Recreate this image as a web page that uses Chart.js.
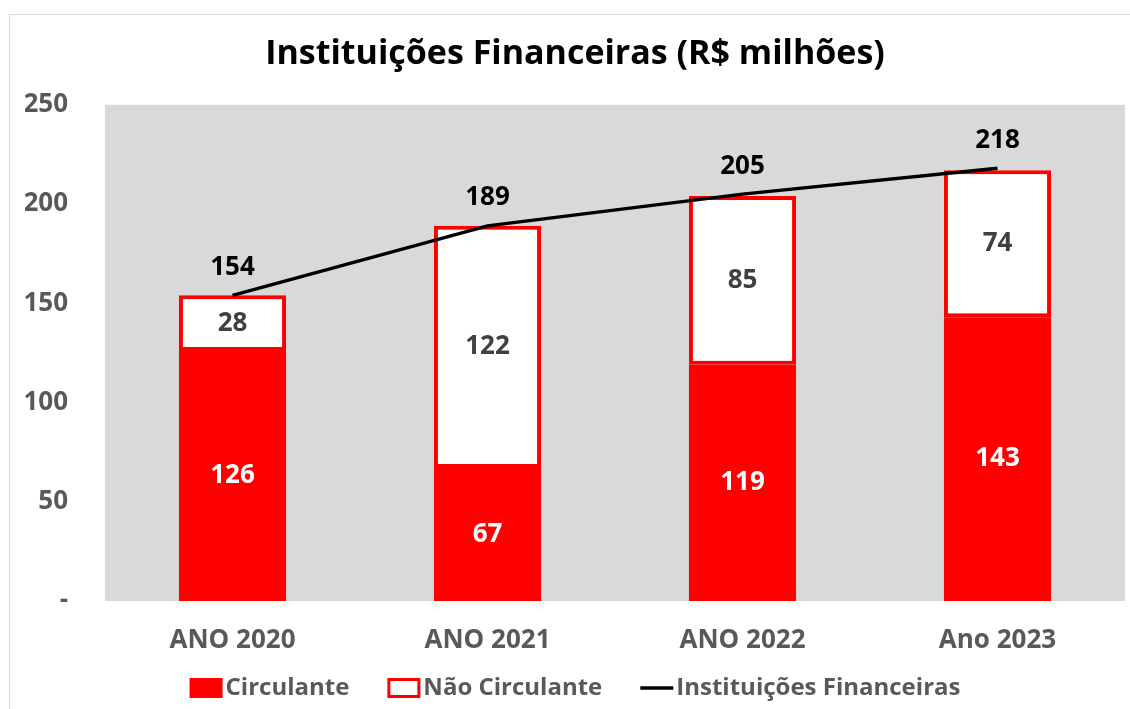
<!DOCTYPE html>
<html>
<head>
<meta charset="utf-8">
<script src="https://cdn.jsdelivr.net/npm/chart.js@4.4.0/dist/chart.umd.min.js"></script>
<style>
  html, body { margin: 0; padding: 0; background: #fff; overflow: hidden; }
  #frame { position: absolute; left: 9px; top: 14px; width: 1200px; height: 800px;
           border-left: 1px solid #d9d9d9; border-top: 1px solid #d9d9d9; }
  #wrap { position: absolute; left: 0; top: 0; width: 1130px; height: 709px; }
</style>
</head>
<body>
<div id="frame"></div>
<div id="wrap"><canvas id="canvas" width="1130" height="709"></canvas></div>
<script>
var categories = ["ANO 2020", "ANO 2021", "ANO 2022", "Ano 2023"];
var circulante = [126, 67, 119, 143];
var naoCirculante = [28, 122, 85, 74];
var totalIF = [154, 189, 205, 218];
var yTicks = [0, 50, 100, 150, 200, 250];

var FONT = "'Open Sans', sans-serif";
var RED = "#ff0000";
var GREY = "#595959";

// grey plot background
var plotBg = {
    id: 'plotBg',
    beforeDatasetsDraw: function(chart) {
        var a = chart.chartArea, ctx = chart.ctx;
        ctx.save();
        ctx.fillStyle = "#d9d9d9";
        ctx.fillRect(a.left, a.top, a.right - a.left, a.bottom - a.top);
        ctx.restore();
    }
};

// value labels
var valueLabels = {
    id: 'valueLabels',
    afterDatasetsDraw: function(chart) {
        var ctx = chart.ctx;
        ctx.save();
        ctx.textAlign = "center";
        ctx.textBaseline = "middle";
        ctx.font = "bold 26px " + FONT;
        chart.data.datasets.forEach(function(ds, i) {
            var meta = chart.getDatasetMeta(i);
            meta.data.forEach(function(el, j) {
                var v = ds.data[j];
                if (ds.type === 'line') {
                    ctx.fillStyle = "#000";
                    ctx.fillText(v, el.x, el.y - 28);
                } else {
                    ctx.fillStyle = ds.labelColor;
                    ctx.fillText(v, el.x, (el.y + el.base) / 2);
                }
            });
        });
        ctx.restore();
    }
};

// legend at the bottom
var bottomLegend = {
    id: 'bottomLegend',
    afterDraw: function(chart) {
        var ctx = chart.ctx;
        var items = [
            { text: "Circulante", kind: "fill" },
            { text: "Não Circulante", kind: "outline" },
            { text: "Instituições Financeiras", kind: "line" }
        ];
        var y = 688, boxW = 33, boxH = 20, gap = 3, spacing = 38;
        ctx.save();
        ctx.font = "bold 24px " + FONT;
        var total = 0;
        items.forEach(function(it, k) {
            it.w = ctx.measureText(it.text).width;
            total += boxW + gap + it.w + (k < items.length - 1 ? spacing : 0);
        });
        var x = 575 - total / 2;
        items.forEach(function(it) {
            if (it.kind === "fill") {
                ctx.fillStyle = RED;
                ctx.fillRect(x, y - boxH / 2, boxW, boxH);
            } else if (it.kind === "outline") {
                ctx.fillStyle = "#fff";
                ctx.fillRect(x, y - boxH / 2, boxW, boxH);
                ctx.strokeStyle = RED;
                ctx.lineWidth = 3;
                ctx.strokeRect(x + 1.5, y - boxH / 2 + 1.5, boxW - 3, boxH - 3);
            } else {
                ctx.strokeStyle = "#000";
                ctx.lineWidth = 3.5;
                ctx.beginPath();
                ctx.moveTo(x, y);
                ctx.lineTo(x + boxW, y);
                ctx.stroke();
            }
            ctx.fillStyle = GREY;
            ctx.textAlign = "left";
            ctx.textBaseline = "middle";
            ctx.fillText(it.text, x + boxW + gap, y);
            x += boxW + gap + it.w + spacing;
        });
        ctx.restore();
    }
};

var config = {
    type: 'bar',
    data: {
        labels: categories,
        datasets: [{
            type: 'line',
            label: "Instituições Financeiras",
            data: totalIF,
            borderColor: "#000",
            borderWidth: 3.5,
            pointRadius: 0,
            tension: 0,
            stack: 'total',
            order: 0
        }, {
            label: "Circulante",
            data: circulante,
            backgroundColor: RED,
            borderWidth: 0,
            labelColor: "#fff",
            stack: 'bars',
            order: 1
        }, {
            label: "Não Circulante",
            data: naoCirculante,
            backgroundColor: "#fff",
            borderColor: RED,
            borderWidth: 4,
            borderSkipped: false,
            labelColor: "#404040",
            stack: 'bars',
            order: 2
        }]
    },
    options: {
        responsive: false,
        animation: false,
        layout: { padding: { left: 25, right: 5, top: 0, bottom: 0 } },
        datasets: { bar: { barPercentage: 0.84, categoryPercentage: 0.5 } },
        plugins: {
            legend: { display: false },
            tooltip: { enabled: false },
            title: {
                display: true,
                text: "Instituições Financeiras (R$ milhões)",
                color: "#000",
                font: { family: FONT, size: 34, weight: 'bold' },
                padding: { top: 34, bottom: 30 }
            }
        },
        scales: {
            x: {
                stacked: true,
                grid: { display: false, drawTicks: false },
                border: { display: false },
                ticks: { color: GREY, font: { family: FONT, size: 26, weight: 'bold' }, padding: 24 },
                afterFit: function(s) { s.height = 108; }
            },
            y: {
                stacked: true,
                min: 0,
                max: 250,
                grid: { display: false, drawTicks: false },
                border: { display: false },
                afterBuildTicks: function(s) { s.ticks = yTicks.map(function(v) { return { value: v }; }); },
                ticks: {
                    color: GREY,
                    font: { family: FONT, size: 26, weight: 'bold' },
                    padding: 37,
                    callback: function(v) { return v === 0 ? "-" : v; }
                },
                afterFit: function(s) { s.width = 80; }
            }
        }
    },
    plugins: [plotBg, valueLabels, bottomLegend]
};

window.onload = function() {
    window.myChart = new Chart(document.getElementById("canvas"), config);
};
</script>
</body>
</html>
